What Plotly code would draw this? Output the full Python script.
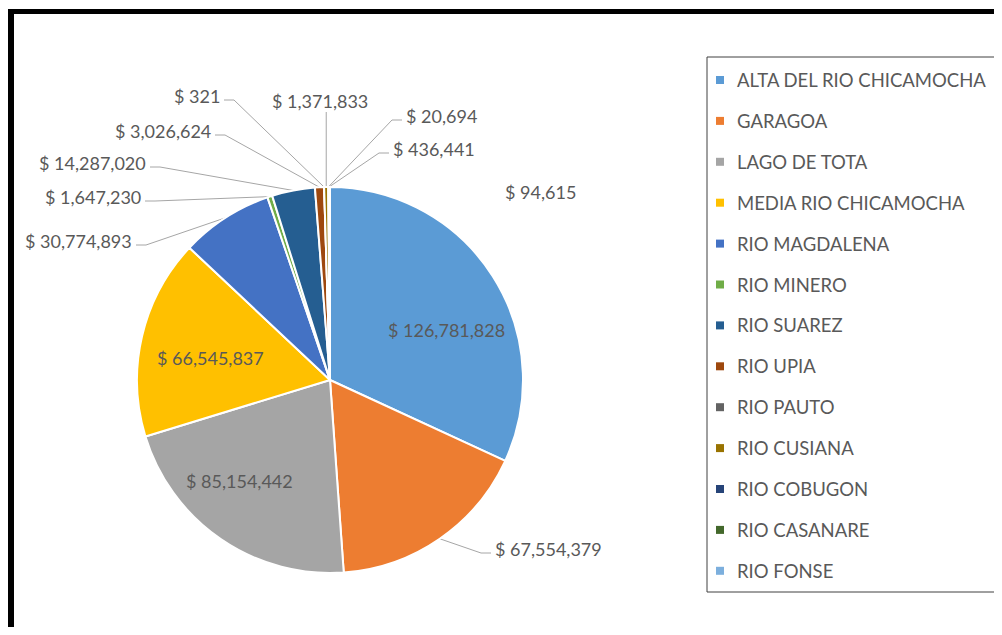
import math
import plotly.graph_objects as go

# ---- data ----
labels = ["ALTA DEL RIO CHICAMOCHA", "GARAGOA", "LAGO DE TOTA", "MEDIA RIO CHICAMOCHA",
          "RIO MAGDALENA", "RIO MINERO", "RIO SUAREZ", "RIO UPIA", "RIO PAUTO",
          "RIO CUSIANA", "RIO COBUGON", "RIO CASANARE", "RIO FONSE"]
values = [126781828, 67554379, 85154442, 66545837, 30774893, 1647230, 14287020,
          3026624, 321, 1371833, 20694, 436441, 94615]
colors = ["#5B9BD5", "#ED7D31", "#A5A5A5", "#FFC000", "#4472C4", "#70AD47", "#255E91",
          "#9E480E", "#636363", "#997300", "#264478", "#43682B", "#7CAFDD"]

# ---- layout (page pixels; the page body has an 8px margin) ----
OFF = 8
W, H = 1002 - 2 * OFF, 635 - 2 * OFF
CX, CY, R = 330, 380, 193
FONT = "Lato"
TXT = "#595959"
LINE = "#A6A6A6"

def px(x):
    return (x - OFF) / W

def py(y):
    return 1 - (y - OFF) / H

# label placement: (x, y, anchor)
label_pos = {
    0: (446, 330, "inside"),
    1: (493, 549, "left"),
    2: (239, 481, "inside"),
    3: (210, 358, "inside"),
    4: (134, 241, "right"),
    5: (143, 197, "right"),
    6: (148, 163, "right"),
    7: (213, 131, "right"),
    8: (222, 96, "right"),
    9: (320, 101, "center"),
    10: (404, 116, "left"),
    11: (391, 149, "left"),
    12: (503, 192, "free"),
}

fig = go.Figure()
fig.add_trace(go.Pie(
    labels=labels, values=values, sort=False, direction="clockwise", rotation=0,
    marker=dict(colors=colors, line=dict(color="white", width=2)),
    textinfo="none", hoverinfo="label+value", showlegend=False,
    domain=dict(x=[px(CX - R), px(CX + R)], y=[py(CY + R), py(CY - R)]),
))

total = sum(values)
shapes = []
annotations = []
cum = 0.0
for i, v in enumerate(values):
    a0 = cum / total * 360
    cum += v
    a1 = cum / total * 360
    mid = math.radians((a0 + a1) / 2)
    ex = CX + R * math.sin(mid)
    ey = CY - R * math.cos(mid)
    lx, ly, anc = label_pos[i]
    text = "$ " + f"{v:,}"
    if anc in ("inside", "free"):
        annotations.append(dict(x=px(lx), y=py(ly), xref="paper", yref="paper",
                                text=text, showarrow=False,
                                xanchor="center" if anc == "inside" else "left",
                                yanchor="middle", font=dict(family=FONT, size=18, color=TXT)))
        continue
    if anc == "center":
        annotations.append(dict(x=px(lx), y=py(ly), xref="paper", yref="paper", text=text,
                                showarrow=False, xanchor="center", yanchor="middle",
                                font=dict(family=FONT, size=18, color=TXT)))
        path = f"M {px(ex)},{py(ey)} L {px(ex)},{py(ly + 11)}"
    else:
        annotations.append(dict(x=px(lx), y=py(ly), xref="paper", yref="paper", text=text,
                                showarrow=False, xanchor=anc, yanchor="middle",
                                font=dict(family=FONT, size=18, color=TXT)))
        sgn = -1 if anc == "left" else 1
        tx = lx + sgn * 2
        elx = tx + sgn * 10
        lly = ly + 4
        path = f"M {px(ex)},{py(ey)} L {px(elx)},{py(lly)} L {px(tx)},{py(lly)}"
    shapes.append(dict(type="path", xref="paper", yref="paper", path=path,
                       line=dict(color=LINE, width=1), layer="below"))

# legend (manual)
LX0, LY0, LX1, LY1 = 707, 57, 995, 592
shapes.append(dict(type="rect", xref="paper", yref="paper", x0=px(LX0), x1=px(LX1),
                   y0=py(LY1), y1=py(LY0), line=dict(color="#404040", width=1),
                   fillcolor="rgba(0,0,0,0)"))
step = 40.9
for i, (lab, c) in enumerate(zip(labels, colors)):
    yy = 80 + i * step
    shapes.append(dict(type="rect", xref="paper", yref="paper", x0=px(716), x1=px(724),
                       y0=py(yy + 4), y1=py(yy - 4), line=dict(width=0), fillcolor=c))
    annotations.append(dict(x=px(735), y=py(yy), xref="paper", yref="paper", text=lab,
                            showarrow=False, xanchor="left", yanchor="middle",
                            font=dict(family=FONT, size=18.5, color=TXT)))

# outer frame (left and top black borders)
shapes.append(dict(type="line", xref="paper", yref="paper", x0=px(11), x1=px(11),
                   y0=0, y1=py(9), line=dict(color="black", width=6)))
shapes.append(dict(type="line", xref="paper", yref="paper", x0=px(8), x1=1,
                   y0=py(11.5), y1=py(11.5), line=dict(color="black", width=5)))

fig.update_layout(width=W, height=H, margin=dict(l=0, r=0, t=0, b=0),
                  paper_bgcolor="white", plot_bgcolor="white",
                  shapes=shapes, annotations=annotations, showlegend=False)
fig.write_html("out.html")
